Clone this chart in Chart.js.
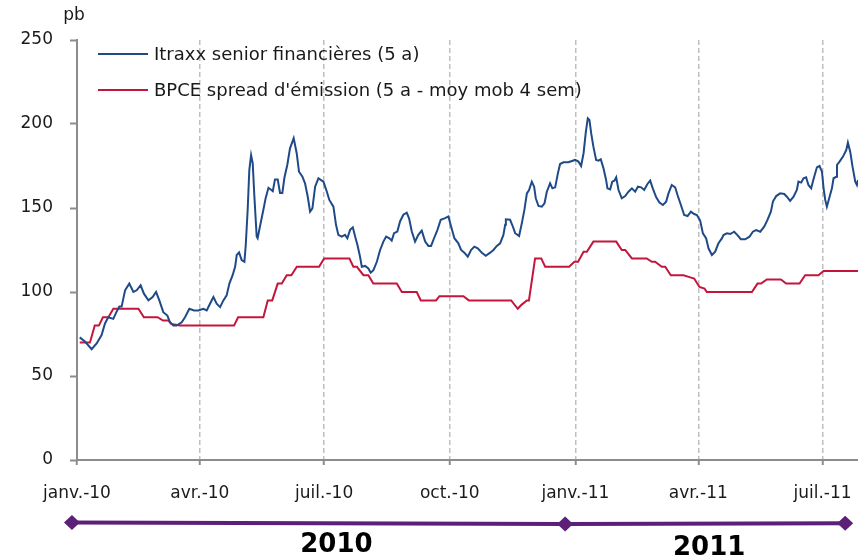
<!DOCTYPE html>
<html>
<head>
<meta charset="utf-8">
<script src="https://cdn.jsdelivr.net/npm/chart.js@4/dist/chart.umd.min.js"></script>
<style>
html,body{margin:0;padding:0;background:#fff;}
#wrap{width:858px;height:558px;}
</style>
</head>
<body>
<div id="wrap"><canvas id="c" width="858" height="558"></canvas></div>
<script>
// Tick labels (quarters) and their positions in days since 1 Jan 2010
const monthLabels = ['janv.-10','avr.-10','juil.-10','oct.-10','janv.-11','avr.-11','juil.-11'];
const monthDays = [0,90,181,273,365,455,546];
const yTicks = [0,50,100,150,200,250];

const seriesNames = ['Itraxx senior financières (5 a)', "BPCE spread d'émission (5 a - moy mob 4 sem)"];
const unitLabel = 'pb';

// Itraxx senior financières (5 a) — days since 1 Jan 2010, value in pb
const itraxxDays = [2,6,10.7,14.4,18,20.5,22.9,26.6,29,31,32.7,35.2,38.3,41.3,43.7,46.6,49,52.3,55.4,57.9,60.3,63.2,66.2,68.1,70.6,73,76.7,79.1,82.3,85.7,88.9,
92.5,95,97.4,99.9,102.3,104.8,107.2,109.6,111.6,114,115.8,117,118.7,120.6,122.6,123.6,125,126.2,127.5,128.7,129.9,131.6,132.3,134,136.5,138.2,140.2,141.9,143.4,145,147,148.7,150.4,151.9,154,156,158.7,160.9,162.6,165.1,167,169,170.7,172.4,174.4,176.8,179.3,
180.5,183,184.8,187.8,189.7,191.4,193.9,196.3,198,200,202,203.7,205.4,207.3,208.6,211,213.4,215.1,217.1,219.6,222,224.4,226.4,228.8,230.5,232.2,234.6,236.6,239,241.5,243.2,245.2,247.6,250,252.5,255,257.4,259.3,261.5,264,266.4,269.6,
272,274,276.4,279.3,281.3,283.7,286.2,288.6,291,293.5,296.5,299.4,302.6,305,307.5,309.9,312.3,313.6,314.1,317.2,319.2,320.9,323.8,325.8,327.7,329.5,331.1,333.1,334.8,336,338,340.4,342.4,344.1,346.5,348.2,350.2,352.2,353.8,356.3,359.9,
364.8,367.3,369.2,371,372.7,374.1,375.3,376.6,378.2,380.2,381.9,383.6,385.6,387.5,388.5,390.5,392,393.6,394.9,396.6,399,401.5,403.9,406.4,408.8,410.8,413.2,415.4,417.8,419.8,421.7,424.2,426.6,429.1,431.5,433.2,435.6,438.1,439.8,442.3,444.7,447.2,449.6,452,454,456.4,
458.4,460.8,462.5,465,467.4,469.8,472.3,473.5,476,478.4,481.3,483.7,486.2,489.4,492.5,495,497.4,500.4,503.3,505.7,508.2,509.7,512.1,515,518,519.9,522.3,524.8,527.2,528.4,530.4,532.1,534,535.7,537.7,539.4,541.9,543.8,545.6,546.8,548,549.2,551.2,552.9,554.1,556.1,556.6,558.5,561,563.4,564.6,566.3,568,570,571.2,572];
const itraxxValues = [73,70.4,66,69.4,74.4,81.3,85,84,88.3,91.3,91.3,101,105,100,101,104,99,95,97,100,95,88,86,82,80,80,82,85,90,89,89,
90,89,93,97,93,91,95,98,105,110,115,122,123.5,119,118,128,149,172.6,181.5,176.6,157,133,132,139,149,156,162,161,160,167,167,159,159,168,175.6,185.5,191.5,182.6,171.6,168.6,164.7,156.7,147.8,149.8,162.7,167.7,166.3,
165.7,159.7,154.8,150.8,140,134,133,134,132,137,138.5,133,128,121,115,115.5,114,111.5,113,118,125,130,133,132,130.6,135,136,142,146,147.2,143.8,136,130,134,136.5,130,127.4,127.4,132,137,143,144,
145,139,132,129,125,123.4,121,125,127,126,123.4,121.6,123.4,125,127.4,129,134,140,143.3,143,139,135,133.3,141,149,158.7,160.7,165.7,162.7,155.8,151.2,150.8,152.8,159.7,164.7,161.7,162.3,170.6,176.2,177.2,177.2,
178.6,177.6,175,182.6,195.4,203.4,202.4,194.4,186.5,178.6,178.2,179,173.6,166.7,161.7,161.1,165.7,166.3,168.3,160.7,155.8,157.1,159.7,161.7,159.7,162.7,162.3,160.7,164.3,166.3,161.7,156.4,153.2,151.8,153.8,158.7,163.7,162.3,157.7,151.8,145.8,145.2,147.8,146.4,145.8,142.5,
134.9,131.9,126,122,124,129,131.9,133.9,134.9,134.5,135.9,133.9,131.4,131.4,132.9,135.9,136.9,135.9,138.9,142.9,147.8,153.8,157.1,158.7,158.3,156.7,154.2,156.7,160.7,165.7,165.1,167.7,168.3,163.7,161.7,167.1,174.2,175,171.6,161.7,154.8,150.8,156.7,161.7,167.7,168.6,175.6,177.6,180.6,184.5,188.9,183.5,174.6,165.7,163.7,166.7];

// BPCE spread d'émission (5 a - moyenne mobile 4 semaines)
const bpceDays = [2,9.5,13,16,19,23,26.6,45,49,59,63,67,69,75.5,115,118,136.5,139.7,143,147,150,153.6,157,161,177.3,181,199.5,202.4,205,209.8,213.4,217,234.2,237.9,248.8,251.8,263,265.4,283,287,318,322.8,325.7,329.5,331,335.5,340,342.9,360.4,364.3,367,371,373.4,378.2,394.9,399,401.5,406.4,417.3,421,423.4,428.3,430.8,434.9,444.2,448,452,455.9,459.6,461.3,494.3,498.4,501,505.2,515.5,519.4,529.2,533.3,543,546.8,572];
const bpceValues = [70,70,80,80,85,85,90,90,85,85,83,83,81,80,80,85,85,95,95,105,105,110,110,115,115,120,120,115,115,110,110,105,105,100,100,95,95,97.5,97.5,95,95,90,92.5,95,95,120,120,115,115,118,118,124,124,130,130,125,125,120,120,118,118,115,115,110,110,109,108,103,102,100,100,105,105,107.5,107.5,105,105,110,110,112.5,112.5];

// Bottom year timeline (diamond positions in days) and year labels
const timelineDays = [-3.7, 357.5, 562.6];
const yearLabels = ['2010','2011'];
const yearLabelDays = [190, 463];

const toXY = (xs, ys) => xs.map((x, i) => ({x: x, y: ys[i]}));

const FONT = "'DejaVu Sans', Verdana, sans-serif";
Chart.defaults.font.family = FONT;

const decor = {
  id: 'decor',
  afterDraw(chart) {
    const ctx = chart.ctx;
    const xs = chart.scales.x;
    ctx.save();
    // unit label
    ctx.fillStyle = '#1a1a1a';
    ctx.font = '17px ' + FONT;
    ctx.textAlign = 'center';
    ctx.textBaseline = 'middle';
    ctx.fillText(unitLabel, 74, 16);
    // legend
    chart.data.datasets.forEach((ds, i) => {
      const y = 54 + 36 * i;
      ctx.strokeStyle = ds.borderColor;
      ctx.lineWidth = 2;
      ctx.beginPath(); ctx.moveTo(98, y); ctx.lineTo(148, y); ctx.stroke();
      ctx.fillStyle = '#1a1a1a';
      ctx.font = '18px ' + FONT;
      ctx.textAlign = 'left';
      ctx.textBaseline = 'middle';
      ctx.fillText(ds.label, 154, y + 1);
    });
    // timeline
    const tys = [522.5, 524, 523.3];
    const pts = timelineDays.map((d, i) => [xs.getPixelForValue(d), tys[i]]);
    ctx.strokeStyle = '#5c2079';
    ctx.lineWidth = 4;
    ctx.beginPath();
    pts.forEach((p, i) => i ? ctx.lineTo(p[0], p[1]) : ctx.moveTo(p[0], p[1]));
    ctx.stroke();
    ctx.fillStyle = '#5c2079';
    pts.forEach(p => {
      ctx.beginPath();
      ctx.moveTo(p[0] - 8, p[1]); ctx.lineTo(p[0], p[1] - 7.5);
      ctx.lineTo(p[0] + 8, p[1]); ctx.lineTo(p[0], p[1] + 7.5);
      ctx.closePath(); ctx.fill();
    });
    ctx.fillStyle = '#000';
    ctx.font = 'bold 26px ' + FONT;
    ctx.textAlign = 'center';
    ctx.textBaseline = 'alphabetic';
    yearLabels.forEach((t, i) => ctx.fillText(t, xs.getPixelForValue(yearLabelDays[i]), 552 + 3 * i));
    ctx.restore();
  }
};

new Chart(document.getElementById('c'), {
  type: 'line',
  data: {
    datasets: [
      {label: seriesNames[0], data: toXY(itraxxDays, itraxxValues), borderColor: '#1f4a87', borderWidth: 2, pointRadius: 0, tension: 0, fill: false, clip: false},
      {label: seriesNames[1], data: toXY(bpceDays, bpceValues), borderColor: '#c4163c', borderWidth: 2, pointRadius: 0, tension: 0, fill: false, clip: false}
    ]
  },
  options: {
    responsive: false,
    animation: false,
    events: [],
    layout: {padding: {top: 40, left: 0, right: 0, bottom: 0}},
    plugins: {legend: {display: false}, tooltip: {enabled: false}},
    scales: {
      x: {
        type: 'linear',
        min: 0, max: 572,
        afterBuildTicks: s => { s.ticks = monthDays.map(v => ({value: v})); },
        afterFit: s => { s.height = 98; s.paddingLeft = 0; s.paddingRight = 0; },
        ticks: {
          autoSkip: false, maxRotation: 0, minRotation: 0,
          padding: 18, color: '#1a1a1a', font: {size: 17},
          callback: v => monthLabels[monthDays.indexOf(v)]
        },
        grid: {display: true, drawOnChartArea: true, drawTicks: true, color: '#bfbfbf', lineWidth: 1.5, tickLength: 5, tickColor: '#8c8c8c', tickWidth: 2, tickBorderDash: []},
        border: {display: true, color: '#8c8c8c', width: 2, dash: [5, 3]}
      },
      y: {
        min: 0, max: 250,
        afterBuildTicks: s => { s.ticks = yTicks.map(v => ({value: v})); },
        afterFit: s => { s.width = 77; s.paddingTop = 0; s.paddingBottom = 0; },
        ticks: {padding: 17, color: '#1a1a1a', font: {size: 17}},
        grid: {drawOnChartArea: false, drawTicks: true, tickLength: 7, tickColor: '#8c8c8c', tickWidth: 2},
        border: {display: true, color: '#8c8c8c', width: 2}
      }
    }
  },
  plugins: [decor]
});
</script>
</body>
</html>
